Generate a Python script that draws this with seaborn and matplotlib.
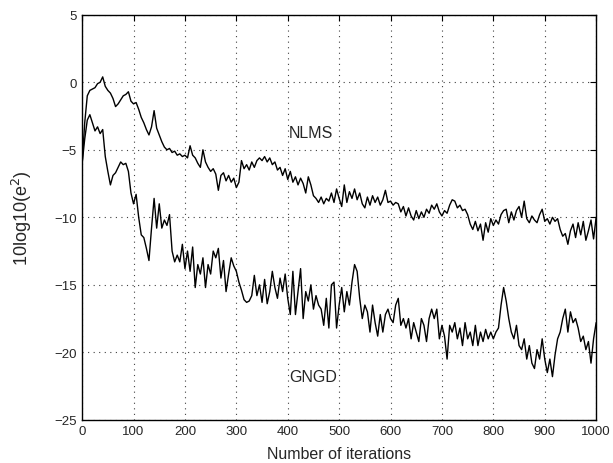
import numpy as np
import pandas as pd
import seaborn as sns
import matplotlib
matplotlib.use("Agg")
import matplotlib.pyplot as plt

# iterations, one value read every 5 steps
iters = np.arange(0, 1001, 5)

nlms = [
    -6.0, -3.0, -1.0, -0.6, -0.5, -0.4, -0.1, 0.0, 0.4, -0.3,
    -0.6, -0.8, -1.2, -1.8, -1.6, -1.3, -1.0, -0.9, -0.7, -1.4,
    -1.6, -1.5, -2.0, -2.6, -3.0, -3.5, -3.9, -3.3, -2.1, -3.4,
    -3.9, -4.4, -4.8, -5.0, -4.9, -5.2, -5.1, -5.4, -5.3, -5.5,
    -5.4, -5.6, -4.7, -5.4, -5.6, -6.0, -6.3, -5.0, -5.9, -6.3,
    -6.6, -6.4, -6.8, -8.0, -6.9, -6.7, -7.3, -6.9, -7.4, -7.1,
    -7.8, -7.4, -5.8, -6.4, -6.1, -6.5, -5.9, -6.3, -5.8, -5.6,
    -5.8, -5.5, -5.9, -5.6, -6.1, -5.9, -6.5, -6.3, -6.9, -6.4,
    -7.2, -6.6, -7.4, -7.0, -7.6, -7.1, -7.5, -8.2, -7.0, -7.6,
    -8.4, -8.6, -8.9, -8.5, -9.0, -8.6, -8.8, -8.2, -8.9, -7.9,
    -8.6, -9.2, -7.6, -8.9, -8.1, -8.6, -7.9, -8.7, -8.2, -9.0,
    -9.3, -8.5, -9.1, -8.4, -8.9, -8.5, -9.1, -8.7, -8.0, -8.9,
    -8.8, -9.1, -8.9, -9.0, -9.6, -9.2, -9.9, -9.3, -9.9, -10.2,
    -9.5, -10.1, -9.6, -10.0, -9.4, -9.7, -9.1, -9.4, -9.0, -9.6,
    -9.9, -9.5, -9.7, -9.1, -8.7, -8.8, -9.3, -9.1, -9.5, -9.4,
    -9.8, -10.5, -10.9, -10.3, -11.0, -10.5, -11.7, -10.4, -11.1, -10.1,
    -10.6, -10.2, -10.5, -9.8, -9.5, -9.4, -10.4, -9.6, -10.2, -9.5,
    -9.2, -10.0, -8.8, -10.1, -10.4, -9.9, -10.2, -10.4, -9.8, -9.4,
    -10.3, -10.1, -10.5, -10.0, -10.3, -10.1, -10.9, -11.4, -11.2, -12.0,
    -11.0, -10.5, -11.5, -10.4, -11.3, -10.3, -11.7, -11.0, -10.2, -11.6,
    -10.0,
]

gngd = [
    -6.0, -4.2, -2.8, -2.4, -3.0, -3.6, -3.3, -3.8, -3.5, -5.5,
    -6.6, -7.6, -6.9, -6.7, -6.3, -5.9, -6.1, -6.0, -6.6, -8.2,
    -9.0, -8.3, -10.0, -11.3, -11.5, -12.3, -13.2, -10.8, -8.6, -10.8,
    -9.0, -10.8, -10.2, -10.6, -9.8, -12.5, -13.3, -12.8, -13.3, -12.0,
    -13.8, -12.5, -14.0, -12.2, -15.2, -13.5, -14.2, -13.0, -15.2, -13.5,
    -14.2, -12.5, -13.0, -12.3, -14.5, -13.2, -15.5, -14.2, -13.0, -13.6,
    -14.0, -14.8, -15.4, -16.1, -16.3, -16.2, -15.8, -14.3, -15.8, -15.0,
    -16.3, -14.6, -16.4, -15.5, -14.0, -15.2, -16.0, -14.5, -15.5, -14.2,
    -16.0, -17.2, -14.0, -17.2, -15.5, -13.8, -17.5, -15.5, -16.2, -15.0,
    -16.8, -15.8, -16.5, -16.8, -18.0, -16.0, -18.2, -15.0, -14.8, -18.2,
    -16.5, -15.2, -17.0, -15.5, -16.5, -14.8, -13.5, -14.0, -16.0, -17.5,
    -16.5, -17.0, -18.5, -16.5, -17.8, -18.8, -17.2, -18.5, -17.2, -16.8,
    -17.5, -17.8, -16.5, -16.0, -18.0, -17.5, -18.2, -17.5, -19.0, -17.8,
    -18.5, -19.2, -17.5, -18.0, -19.2, -17.5, -16.8, -17.5, -16.8, -19.0,
    -18.0, -18.8, -20.5, -18.0, -18.5, -17.8, -19.0, -18.2, -19.5, -17.8,
    -19.0, -18.5, -19.5, -18.0, -19.5, -18.5, -19.2, -18.3, -19.0, -18.5,
    -19.0, -18.5, -18.2, -16.5, -15.2, -16.2, -17.5, -18.5, -19.0, -18.0,
    -19.5, -19.8, -19.0, -20.5, -19.5, -20.8, -21.2, -19.8, -20.5, -19.0,
    -20.5, -21.5, -20.5, -21.8, -20.2, -19.0, -18.5, -17.5, -16.8, -18.5,
    -17.0, -17.8, -17.5, -18.2, -19.2, -18.8, -19.8, -19.2, -20.8, -19.0,
    -17.8,
]

x_ticks = [0, 100, 200, 300, 400, 500, 600, 700, 800, 900, 1000]
y_ticks = [-25, -20, -15, -10, -5, 0, 5]

sns.set_style("white")
plt.rcParams['font.family'] = ['Liberation Sans', 'DejaVu Sans']

fig = plt.figure(figsize=(6.13, 4.64), dpi=100)
ax = fig.add_axes([0.134, 0.093, 0.8385, 0.873])

sns.lineplot(x=iters, y=nlms, color='black', linewidth=1.0, ax=ax)
sns.lineplot(x=iters, y=gngd, color='black', linewidth=1.0, ax=ax)

ax.set_xlim(0, 1000)
ax.set_ylim(-25, 5)
ax.set_xticks(x_ticks)
ax.set_yticks(y_ticks)
ax.grid(True, linestyle=(0, (1, 4)), color='0.25', linewidth=0.8)
ax.tick_params(direction='in', top=True, right=True, length=4,
               labelsize=9.5, color='black', pad=4)
for s in ax.spines.values():
    s.set_color('black')
    s.set_linewidth(1.0)

ax.text(445, -3.7, 'NLMS', fontsize=11.5, ha='center', va='center')
ax.text(449, -21.8, 'GNGD', fontsize=11.5, ha='center', va='center')

ax.set_xlabel('Number of iterations', fontsize=11.5, labelpad=6)
ax.set_ylabel('10log10(e$^2$)', fontsize=13)
ax.yaxis.set_label_coords(-0.093, 0.5)

fig.savefig('out.png', dpi=100)
